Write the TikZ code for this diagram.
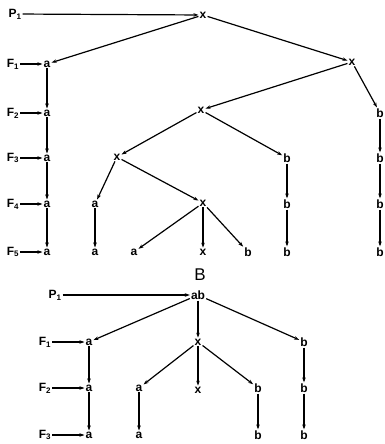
\documentclass[tikz,border=0pt]{standalone}
\usepackage{fontspec}
\setmainfont{Liberation Sans}
\usetikzlibrary{arrows.meta}
\begin{document}
\begin{tikzpicture}[x=1pt,y=-1pt,
  n/.style={inner sep=1pt,font=\bfseries\fontsize{12}{12}\selectfont},
  lab/.style={inner sep=1pt,font=\bfseries\fontsize{12}{12}\selectfont},
  ar/.style={line width=1.2pt,-{Stealth[length=5pt,width=3.5pt]}}]
\useasboundingbox (0,0) rectangle (384,444);
% ---- top tree ----
\node[lab] (P1) at (15,14) {P\textsubscript{1}};
\node[n] (t0) at (203,15) {x};
\node[lab] (F1) at (13,64) {F\textsubscript{1}};
\node[lab] (F2) at (13,113) {F\textsubscript{2}};
\node[lab] (F3) at (13,158) {F\textsubscript{3}};
\node[lab] (F4) at (13,204) {F\textsubscript{4}};
\node[lab] (F5) at (13,252) {F\textsubscript{5}};
\node[n] (a1) at (47,64) {a};
\node[n] (a2) at (47,113) {a};
\node[n] (a3) at (47,158) {a};
\node[n] (a4) at (47,204) {a};
\node[n] (a5) at (47,252) {a};
\node[n] (xr) at (352,62) {x};
\node[n] (v) at (201,110) {x};
\node[n] (br1) at (380,113) {b};
\node[n] (br2) at (380,158) {b};
\node[n] (br3) at (380,204) {b};
\node[n] (br4) at (380,252) {b};
\node[n] (x3) at (117,157) {x};
\node[n] (bm1) at (287,158) {b};
\node[n] (bm2) at (287,204) {b};
\node[n] (bm3) at (287,252) {b};
\node[n] (a4b) at (95,204) {a};
\node[n] (a5b) at (95,252) {a};
\node[n] (x4) at (203,203) {x};
\node[n] (a5c) at (134,252) {a};
\node[n] (x5) at (203,252) {x};
\node[n] (b5) at (248,252) {b};
\draw[ar] (P1) -- (t0);
\draw[ar] (t0) -- (a1);
\draw[ar] (t0) -- (xr);
\foreach \f/\a in {F1/a1,F2/a2,F3/a3,F4/a4,F5/a5} \draw[ar] (\f) -- (\a);
\draw[ar] (a1) -- (a2);
\draw[ar] (a2) -- (a3);
\draw[ar] (a3) -- (a4);
\draw[ar] (a4) -- (a5);
\draw[ar] (xr) -- (v);
\draw[ar] (xr) -- (br1);
\draw[ar] (br1) -- (br2);
\draw[ar] (br2) -- (br3);
\draw[ar] (br3) -- (br4);
\draw[ar] (v) -- (x3);
\draw[ar] (v) -- (bm1);
\draw[ar] (bm1) -- (bm2);
\draw[ar] (bm2) -- (bm3);
\draw[ar] (x3) -- (a4b);
\draw[ar] (x3) -- (x4);
\draw[ar] (a4b) -- (a5b);
\draw[ar] (x4) -- (a5c);
\draw[ar] (x4) -- (x5);
\draw[ar] (x4) -- (b5);
% ---- label B ----
\node[inner sep=1pt,font=\fontsize{17}{17}\selectfont] (B) at (200,275) {B};
% ---- bottom tree ----
\node[lab] (Q1) at (55,295) {P\textsubscript{1}};
\node[n] (ab) at (198,295) {ab};
\node[lab] (G1) at (45,342) {F\textsubscript{1}};
\node[lab] (G2) at (45,388) {F\textsubscript{2}};
\node[lab] (G3) at (45,435) {F\textsubscript{3}};
\node[n] (c1) at (89,342) {a};
\node[n] (c2) at (89,388) {a};
\node[n] (c3) at (89,435) {a};
\node[n] (y1) at (198,342) {x};
\node[n] (d1) at (304,342) {b};
\node[n] (d2) at (304,388) {b};
\node[n] (d3) at (304,435) {b};
\node[n] (e2) at (139,388) {a};
\node[n] (e3) at (139,435) {a};
\node[n] (y2) at (198,390) {x};
\node[n] (g2) at (258,388) {b};
\node[n] (g3) at (258,435) {b};
\draw[ar] (Q1) -- (ab);
\draw[ar] (ab) -- (c1);
\draw[ar] (ab) -- (y1);
\draw[ar] (ab) -- (d1);
\foreach \f/\a in {G1/c1,G2/c2,G3/c3} \draw[ar] (\f) -- (\a);
\draw[ar] (c1) -- (c2);
\draw[ar] (c2) -- (c3);
\draw[ar] (d1) -- (d2);
\draw[ar] (d2) -- (d3);
\draw[ar] (y1) -- (e2);
\draw[ar] (y1) -- (y2);
\draw[ar] (y1) -- (g2);
\draw[ar] (e2) -- (e3);
\draw[ar] (g2) -- (g3);
\end{tikzpicture}
\end{document}
